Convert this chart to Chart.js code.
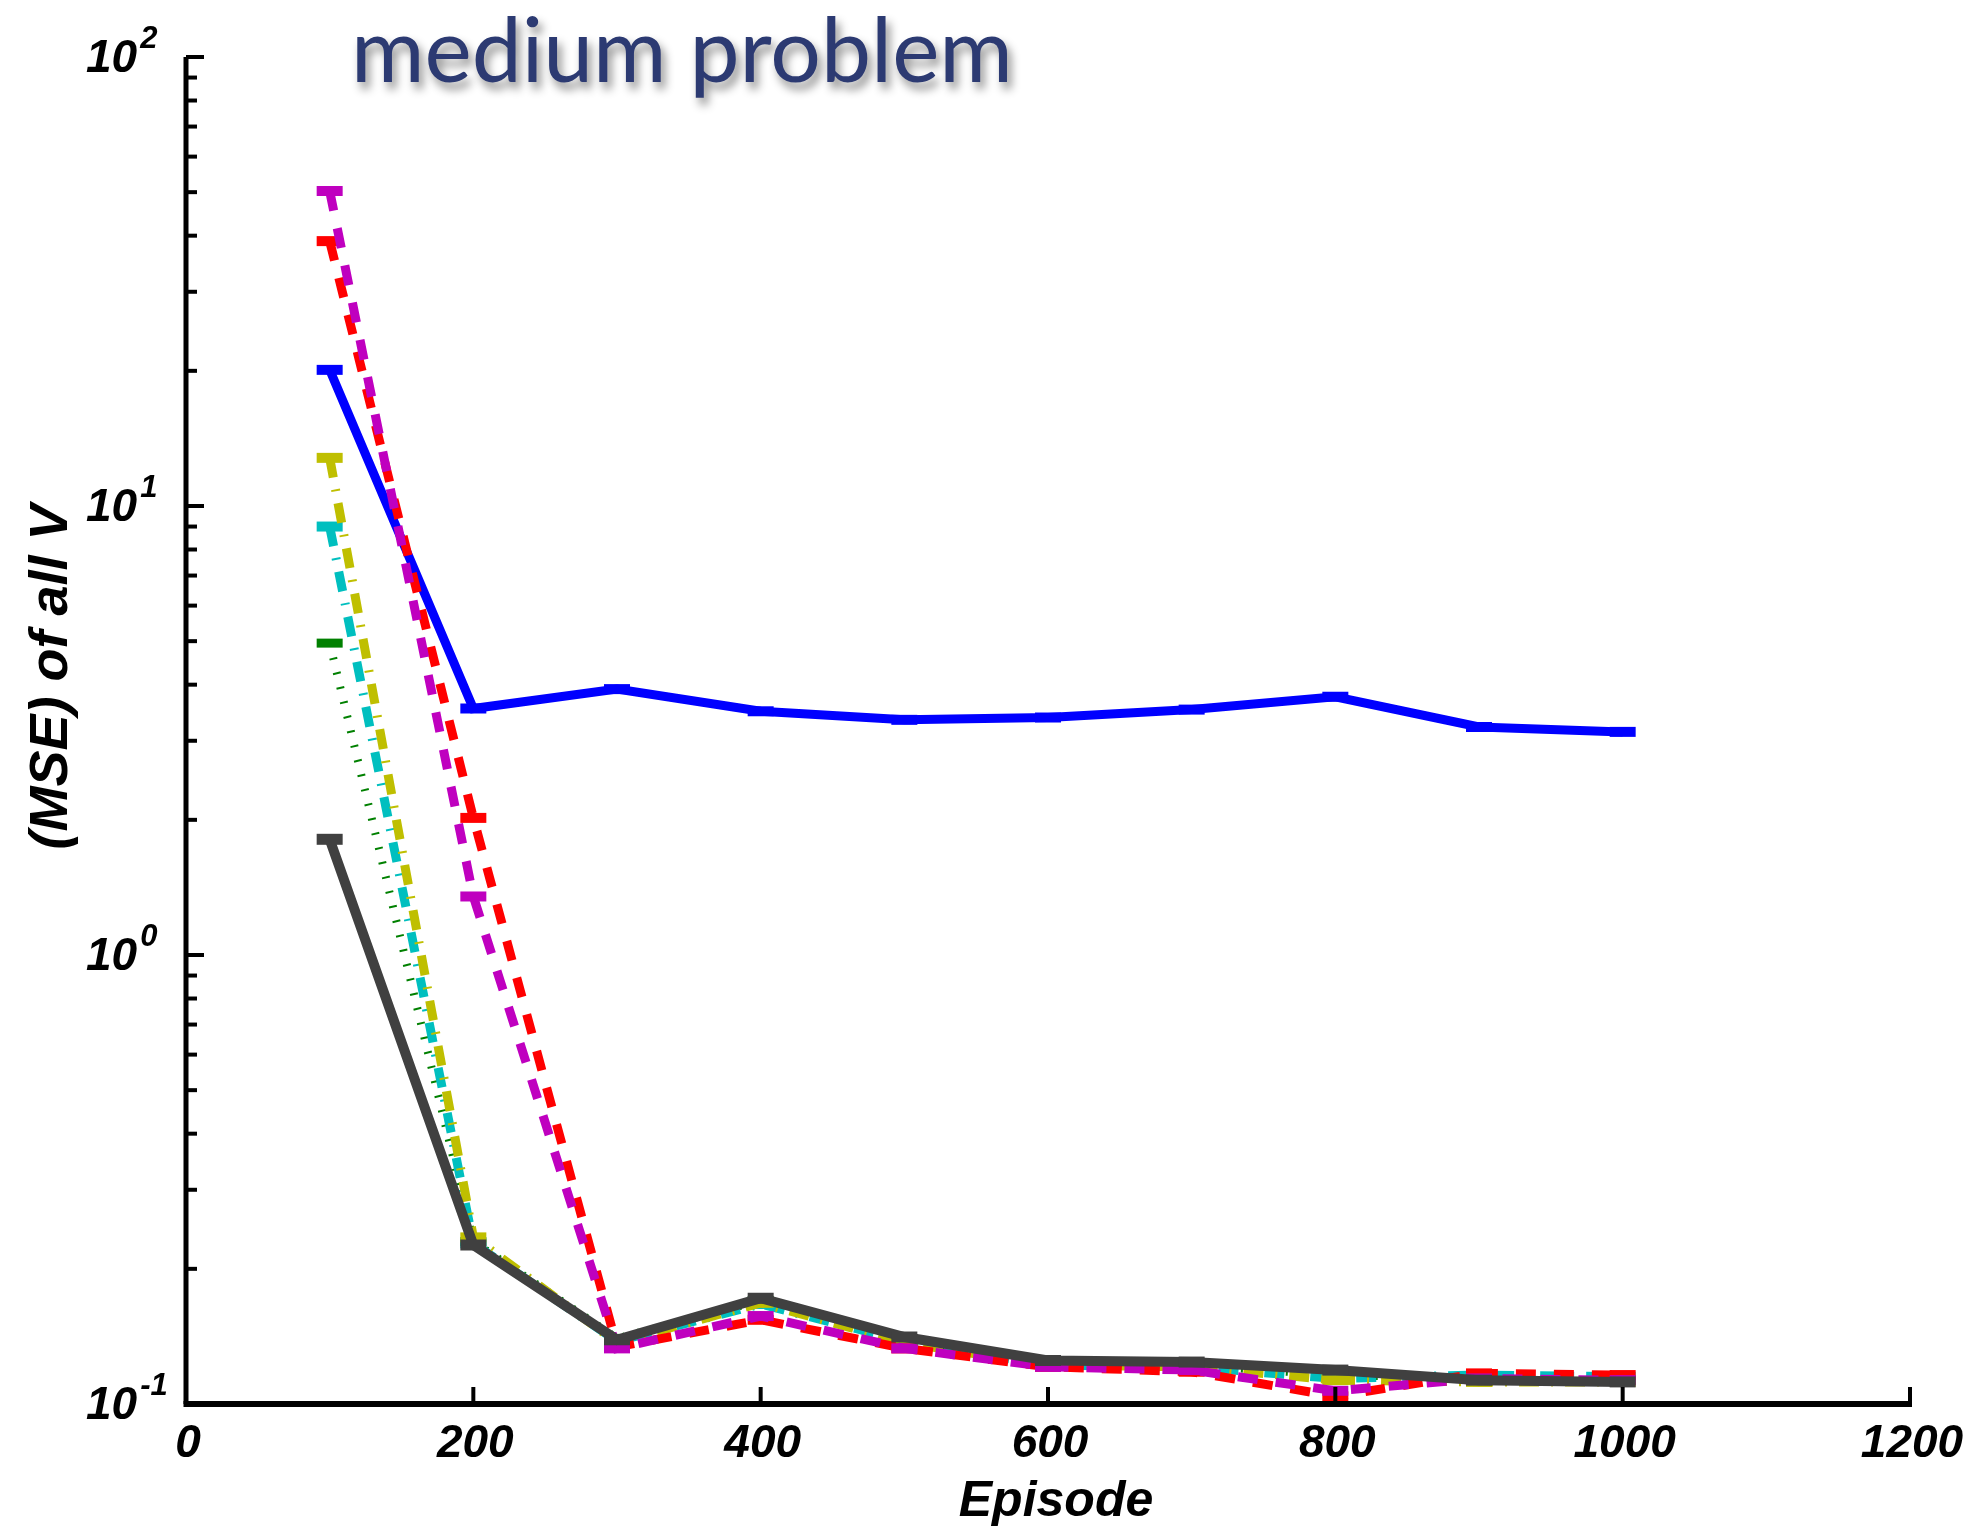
<!DOCTYPE html>
<html><head><meta charset="utf-8">
<script src="https://cdn.jsdelivr.net/npm/chart.js@4/dist/chart.umd.min.js"></script>
<style>html,body{margin:0;padding:0;background:#fff;} canvas{display:block;}</style>
</head><body>
<canvas id="c" width="1984" height="1531"></canvas>
<script>
// ---- data ----
const episodes = [100, 200, 300, 400, 500, 600, 700, 800, 900, 1000];
const blueVals    = [20.1, 3.54, 3.91, 3.49, 3.34, 3.38, 3.52, 3.76, 3.22, 3.14];
const greenVals   = [4.95, 0.230, 0.140, 0.170, 0.139, 0.123, 0.122, 0.116, 0.114, 0.113];
const redVals     = [38.9, 2.02, 0.134, 0.154, 0.133, 0.121, 0.118, 0.104, 0.117, 0.116];
const cyanVals    = [9.0, 0.228, 0.138, 0.167, 0.138, 0.122, 0.121, 0.114, 0.116, 0.115];
const magentaVals = [50.3, 1.35, 0.133, 0.157, 0.133, 0.121, 0.119, 0.107, 0.114, 0.113];
const yellowVals  = [12.8, 0.235, 0.137, 0.168, 0.137, 0.122, 0.121, 0.113, 0.112, 0.112];
const grayVals    = [1.81, 0.226, 0.139, 0.172, 0.141, 0.125, 0.124, 0.119, 0.113, 0.112];
const xTicks = [0, 200, 400, 600, 800, 1000, 1200];
const yDecades = [-1, 0, 1, 2];
const titleText = 'medium problem';
const xTitle = 'Episode';
const yTitle = '(MSE) of all V';

function ds(label, values, color, width, dash, order) {
  return {
    label, order,
    data: episodes.map((e, i) => ({x: e, y: values[i]})),
    borderColor: color, backgroundColor: color,
    borderWidth: width, borderDash: dash, borderCapStyle: 'butt', borderJoinStyle: 'miter',
    pointStyle: 'line', pointRadius: 13, pointHoverRadius: 13,
    pointBorderWidth: width + 1, pointBorderColor: color,
    tension: 0, fill: false, clip: false
  };
}

const datasets = [
  ds('gray', grayVals, '#404040', 10, [], 0),
  ds('magenta', magentaVals, '#bf00bf', 9, [20, 18], 1),
  ds('red', redVals, '#ff0000', 9, [20, 18], 2),
  ds('yellow', yellowVals, '#bfbf00', 9, [20, 12, 2, 12], 3),
  ds('cyan', cyanVals, '#00bfbf', 9, [20, 12, 2, 12], 4),
  ds('green', greenVals, '#008000', 8, [2, 13], 5),
  ds('blue', blueVals, '#0000ff', 9, [], 6)
];

const FONT = '"Liberation Sans", Arial, sans-serif';

const axesPlugin = {
  id: 'axesPlugin',
  afterDatasetsDraw(chart) {
    const {ctx} = chart;
    const x = chart.scales.x, y = chart.scales.y;
    const left = x.getPixelForValue(0), right = x.getPixelForValue(1200);
    const top = y.getPixelForValue(100), bottom = y.getPixelForValue(0.1);
    ctx.save();
    ctx.strokeStyle = '#000';
    ctx.lineCap = 'butt';
    // x axis line
    ctx.lineWidth = 6;
    ctx.beginPath(); ctx.moveTo(left - 2.5, bottom); ctx.lineTo(right + 2, bottom); ctx.stroke();
    // y axis line
    ctx.lineWidth = 5;
    ctx.beginPath(); ctx.moveTo(left, top); ctx.lineTo(left, bottom); ctx.stroke();
    // x ticks
    ctx.lineWidth = 4;
    xTicks.forEach(v => {
      const px = x.getPixelForValue(v);
      ctx.beginPath(); ctx.moveTo(px, bottom); ctx.lineTo(px, bottom - 17); ctx.stroke();
    });
    // y ticks (major + minor)
    yDecades.forEach(d => {
      for (let m = 1; m < 10; m++) {
        const v = m * Math.pow(10, d);
        if (v > 100.0001) break;
        const py = y.getPixelForValue(v);
        const len = m === 1 ? 18 : 11;
        ctx.beginPath(); ctx.moveTo(left, py); ctx.lineTo(left + len, py); ctx.stroke();
      }
    });
    // x tick labels
    ctx.fillStyle = '#000';
    ctx.font = 'italic bold 46px ' + FONT;
    ctx.textAlign = 'center'; ctx.textBaseline = 'middle';
    xTicks.forEach(v => {
      ctx.fillText(String(v), x.getPixelForValue(v) + 2, bottom + 40);
    });
    // y tick labels 10^d
    yDecades.forEach(d => {
      const py = y.getPixelForValue(Math.pow(10, d));
      ctx.font = 'italic bold 46px ' + FONT;
      ctx.textAlign = 'left'; ctx.textBaseline = 'middle';
      ctx.fillText('10', 86, py + 2);
      const w = ctx.measureText('10').width;
      ctx.font = 'italic bold 31px ' + FONT;
      ctx.textBaseline = 'alphabetic';
      ctx.fillText(String(d), 86 + w + 3, py - 9);
    });
    // axis titles
    ctx.font = 'italic bold 50px ' + FONT;
    ctx.textAlign = 'center'; ctx.textBaseline = 'alphabetic';
    ctx.fillText(xTitle, 1056, 1516);
    ctx.save();
    ctx.translate(67, 677);
    ctx.rotate(-Math.PI / 2);
    ctx.font = 'italic bold 54px ' + FONT;
    ctx.fillText(yTitle, 0, 0);
    ctx.restore();
    // title with shadow
    ctx.save();
    let size = 84;
    ctx.font = size + 'px Lato, "Open Sans", sans-serif';
    const tw = ctx.measureText(titleText).width;
    size = size * 662 / tw;
    ctx.font = size.toFixed(1) + 'px Lato, "Open Sans", sans-serif';
    ctx.textAlign = 'left'; ctx.textBaseline = 'alphabetic';
    ctx.shadowColor = 'rgba(0,0,0,0.45)';
    ctx.shadowBlur = 10; ctx.shadowOffsetX = 4; ctx.shadowOffsetY = 7;
    ctx.fillStyle = '#2c3a72';
    ctx.fillText(titleText, 351, 82);
    ctx.restore();
    ctx.restore();
  }
};

new Chart(document.getElementById('c'), {
  type: 'line',
  data: {datasets},
  options: {
    responsive: false,
    devicePixelRatio: 1,
    animation: false,
    events: [],
    layout: {padding: {left: 186, right: 74, top: 57, bottom: 127}},
    plugins: {legend: {display: false}, tooltip: {enabled: false}, title: {display: false}},
    scales: {
      x: {type: 'linear', min: 0, max: 1200, display: false},
      y: {type: 'logarithmic', min: 0.1, max: 100, display: false}
    }
  },
  plugins: [axesPlugin]
});
</script>
</body></html>
